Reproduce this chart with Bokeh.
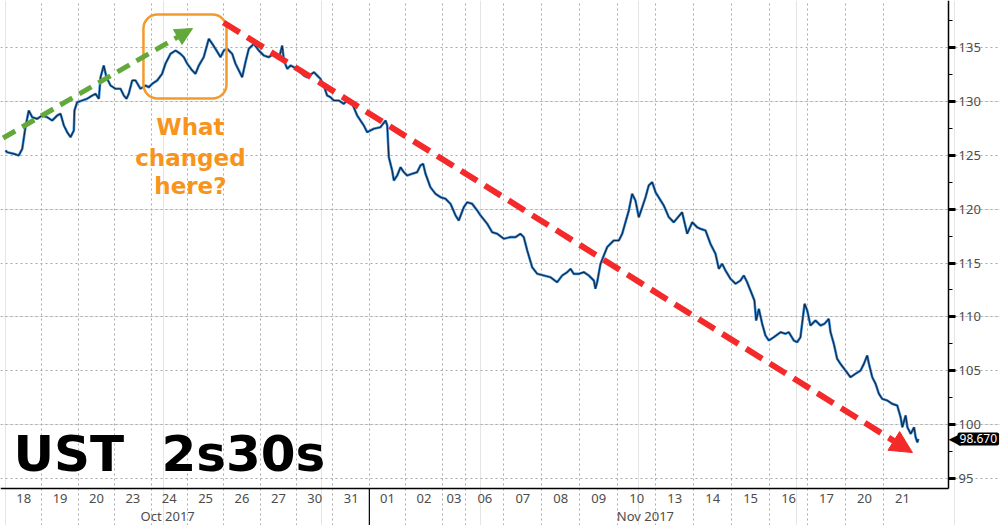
import numpy as np
from bokeh.plotting import figure
from bokeh.models import (Range1d, LinearAxis, FixedTicker, Grid, Arrow, NormalHead,
                          BoxAnnotation, Label, ColumnDataSource)
from bokeh.embed import file_html
from bokeh.resources import INLINE

# ---------------- data ----------------
day_labels = ["18", "19", "20", "23", "24", "25", "26", "27", "30", "31",
              "01", "02", "03", "06", "07", "08", "09", "10", "13", "14",
              "15", "16", "17", "20", "21"]
session_hours = [23] * 12 + [15] + [24] * 12
month_labels = ["Oct 2017", "Nov 2017"]
month_centers = [102.5, 404.5]

# intraday UST 2s30s spread (bp) vs. trading hours since Oct 18 open
hours = [
    0.0, 1.1, 5.2, 8.4, 10.6, 12.6, 14.7, 16.9, 20.0, 23.2,
    26.4, 29.5, 32.7, 34.8, 36.9, 39.0, 41.1, 43.2, 43.6, 45.3,
    48.5, 51.6, 54.8, 56.9, 59.0, 60.1, 62.1, 63.8, 66.4, 69.5,
    72.7, 74.8, 76.5, 77.9, 80.1, 82.2, 85.3, 88.5, 90.6, 92.7,
    95.9, 99.0, 101.1, 104.3, 107.5, 110.6, 112.7, 114.9, 118.0, 120.1,
    122.2, 125.3, 128.5, 130.7, 132.7, 135.9, 138.0, 140.1, 143.3, 145.4,
    147.5, 149.6, 151.7, 153.8, 157.0, 160.1, 163.3, 166.4, 169.6, 172.8,
    174.9, 176.0, 178.1, 180.2, 182.2, 185.4, 188.6, 190.7, 194.9, 197.0,
    199.1, 201.2, 203.3, 205.4, 207.5, 210.7, 213.8, 217.0, 219.2, 222.3,
    224.4, 226.5, 228.6, 232.8, 237.0, 240.2, 241.3, 242.3, 244.4, 245.5,
    247.6, 249.7, 251.8, 253.9, 257.1, 260.2, 262.3, 264.0, 265.5, 268.6,
    271.8, 275.0, 278.1, 281.3, 284.5, 286.5, 289.7, 291.8, 295.0, 298.2,
    300.3, 304.5, 307.6, 310.8, 315.0, 319.2, 322.4, 325.5, 327.6, 329.8,
    332.9, 336.1, 340.3, 344.5, 348.7, 351.9, 355.1, 357.2, 359.2, 362.4,
    365.6, 368.7, 371.9, 372.9, 374.0, 376.1, 380.3, 384.5, 387.7, 389.8,
    394.0, 396.1, 398.2, 400.3, 402.5, 404.6, 406.6, 408.8, 410.2, 410.9,
    416.1, 419.3, 422.4, 427.7, 430.9, 434.1, 437.2, 439.3, 442.5, 445.6,
    448.8, 450.9, 453.0, 455.1, 458.3, 461.5, 464.6, 466.7, 468.8, 470.9,
    473.4, 474.5, 476.2, 478.3, 480.4, 482.5, 485.6, 489.9, 493.0, 495.1,
    498.3, 500.4, 502.5, 505.1, 506.8, 508.8, 512.0, 515.2, 517.7, 520.4,
    521.5, 523.6, 525.7, 527.8, 531.0, 534.1, 537.3, 540.5, 542.6, 544.7,
    545.8, 547.9, 550.0, 552.1, 554.2, 557.4, 560.5, 563.7, 565.8, 566.9,
    569.0, 570.1, 572.2, 574.3, 575.3, 576.4, 577.0,
]
spread = [
    125.44, 125.28, 125.13, 124.98, 125.60, 127.60, 129.15, 128.53, 128.38, 128.69,
    128.53, 128.22, 128.69, 128.85, 127.76, 127.14, 126.68, 127.30, 129.15, 129.92,
    130.08, 130.24, 130.54, 130.70, 130.24, 132.24, 133.33, 132.24, 131.47, 131.17,
    131.17, 130.54, 130.24, 130.70, 131.94, 131.94, 131.17, 131.47, 131.31, 131.63,
    131.94, 132.56, 133.49, 134.41, 134.72, 134.41, 134.10, 133.49, 132.87, 132.56,
    133.33, 134.10, 135.80, 135.34, 134.88, 134.10, 134.72, 134.88, 134.41, 133.49,
    132.87, 132.24, 133.64, 134.88, 135.34, 134.72, 134.26, 134.10, 134.41, 133.95,
    135.18, 133.79, 133.02, 133.33, 133.17, 132.87, 132.40, 132.24, 132.71, 132.40,
    132.09, 131.47, 130.54, 130.39, 130.08, 130.08, 129.77, 130.24, 129.77, 128.69,
    128.22, 127.76, 127.14, 127.46, 127.60, 128.22, 127.76, 124.82, 123.59, 122.66,
    123.12, 123.89, 123.43, 123.12, 123.28, 123.43, 124.05, 124.20, 123.28, 122.03,
    121.42, 121.11, 120.96, 120.49, 119.41, 118.94, 120.18, 120.64, 120.49, 119.87,
    119.41, 118.64, 117.86, 117.71, 117.25, 117.40, 117.40, 117.71, 117.40, 116.16,
    114.61, 114.00, 113.84, 113.68, 113.22, 113.84, 114.15, 114.46, 113.99, 113.99,
    114.15, 113.84, 113.38, 112.61, 113.22, 114.92, 116.47, 117.09, 117.09, 117.71,
    119.87, 121.42, 120.80, 119.25, 120.18, 121.11, 122.19, 122.50, 121.89, 121.57,
    120.34, 119.25, 118.78, 119.71, 117.71, 118.78, 118.32, 118.17, 118.02, 116.78,
    115.85, 114.46, 114.93, 114.30, 113.53, 113.07, 113.38, 113.84, 113.22, 112.45,
    111.52, 109.66, 110.75, 109.36, 108.27, 107.81, 108.11, 108.58, 108.43, 108.58,
    107.81, 107.65, 108.11, 111.21, 110.59, 109.20, 109.66, 109.20, 109.36, 109.82,
    108.58, 107.50, 106.11, 105.64, 105.02, 104.40, 104.72, 105.02, 105.64, 106.41,
    105.64, 104.40, 103.79, 102.86, 102.39, 102.24, 101.93, 101.77, 100.69, 99.76,
    100.85, 99.76, 99.15, 99.76, 98.83, 98.36, 98.67,
]
last_value = 98.670
y_ticks = [95, 100, 105, 110, 115, 120, 125, 130, 135]
y_minor = [97.5, 102.5, 107.5, 112.5, 117.5, 122.5, 127.5, 132.5, 137.5]

# ---------------- derived positions ----------------
sess = np.array(session_hours, dtype=float)
day_end = np.cumsum(sess)
day_start = day_end - sess
day_center = day_start + sess / 2.0
month_sep = float(day_start[day_labels.index("01")])

# whole canvas is the frame; axes are pinned inside it
X0, X1 = -3.16, 628.95       # canvas x extent (hours)
Y0, Y1 = 90.64, 139.36       # canvas y extent (bp)
X_AX = 596.1                 # location of the value axis
Y_AX = 94.07                 # location of the time axis
Y_MON = 92.40                # location of the month row

p = figure(width=1000, height=525, output_backend="svg", toolbar_location=None,
           x_range=Range1d(X0, X1), y_range=Range1d(Y0, Y1),
           x_axis_location=None, y_axis_location=None,
           min_border=0, min_border_left=0, min_border_top=0, min_border_right=0,
           min_border_bottom=0, background_fill_color="white",
           border_fill_color="white")
p.outline_line_color = None

TICK_FONT = "Noto Sans"
TICK_COLOR = "#4d4d4d"

# grids (behind everything)
p.add_layout(Grid(dimension=0, ticker=FixedTicker(ticks=[float(b) for b in day_end[:-1]]),
                  bounds=(Y_AX, Y1),
                  grid_line_color="#a9a9a9", grid_line_dash="2 3", grid_line_width=1))
p.add_layout(Grid(dimension=1, ticker=FixedTicker(ticks=y_ticks), bounds=(X0, X_AX),
                  grid_line_color="#a9a9a9", grid_line_dash="2 3", grid_line_width=1))

# right value axis
yax = LinearAxis(ticker=FixedTicker(ticks=y_ticks, minor_ticks=y_minor),
                 fixed_location=X_AX, bounds=(Y_AX, Y1),
                 axis_line_color="black", axis_line_width=1.5,
                 major_tick_in=0, major_tick_out=7, major_tick_line_width=3,
                 major_tick_line_color="black",
                 minor_tick_in=0, minor_tick_out=4, minor_tick_line_color="black",
                 major_label_text_font=TICK_FONT, major_label_text_font_size="13px",
                 major_label_text_color=TICK_COLOR, major_label_standoff=3)
p.add_layout(yax, "right")

# day axis
xax = LinearAxis(ticker=FixedTicker(ticks=[float(c) for c in day_center]),
                 major_label_overrides={float(c): lab for c, lab in zip(day_center, day_labels)},
                 fixed_location=Y_AX, bounds=(X0, X_AX),
                 axis_line_color="black", axis_line_width=1.5,
                 major_tick_in=0, major_tick_out=0, minor_tick_in=0, minor_tick_out=0,
                 minor_tick_line_color=None,
                 major_label_text_font=TICK_FONT, major_label_text_font_size="13px",
                 major_label_text_color=TICK_COLOR, major_label_standoff=5)
p.add_layout(xax, "below")

# month axis
max_ = LinearAxis(ticker=FixedTicker(ticks=month_centers),
                  major_label_overrides={float(c): lab for c, lab in zip(month_centers, month_labels)},
                  fixed_location=Y_MON,
                  axis_line_color=None, major_tick_line_color=None, minor_tick_line_color=None,
                  major_tick_in=0, major_tick_out=0, minor_tick_in=0, minor_tick_out=0,
                  major_label_text_font=TICK_FONT, major_label_text_font_size="13px",
                  major_label_text_color=TICK_COLOR, major_label_standoff=0)
p.add_layout(max_, "below")

# month separator below the time axis
p.segment(x0=[month_sep], y0=[Y_AX], x1=[month_sep], y1=[Y0],
          line_color="black", line_width=1.2)

# series
src = ColumnDataSource(dict(h=hours, v=spread))
p.line("h", "v", source=src, line_color="#3b8ede", line_width=2.6)
p.line("h", "v", source=src, line_color="#0b1a2c", line_width=1.2, line_alpha=0.85)

# title
TITLE_FONT = "DejaVu Sans"
p.add_layout(Label(x=5.0, y=97.25, text="UST", text_font=TITLE_FONT, text_font_style="bold",
                   text_font_size="50px", text_color="black", text_baseline="alphabetic"))
p.add_layout(Label(x=98.6, y=97.25, text="2s30s", text_font=TITLE_FONT, text_font_style="bold",
                   text_font_size="50px", text_color="black", text_baseline="alphabetic"))

# annotations
p.add_layout(BoxAnnotation(left=87.2, right=139.7, bottom=130.27, top=138.06,
                           fill_color=None, fill_alpha=0, line_color="#f39a2c",
                           line_alpha=1.0, line_width=2.5, border_radius=14))
for txt, yy in [("What", 127.58), ("changed", 124.79), ("here?", 122.19)]:
    p.add_layout(Label(x=116.9, y=yy, text=txt, text_font=TITLE_FONT, text_font_style="bold",
                       text_font_size="23px", text_color="#f7941d", text_align="center",
                       text_baseline="middle"))

green = "#62a83a"
red = "#f42a2a"
p.add_layout(Arrow(x_start=-1.5, y_start=126.6, x_end=118.2, y_end=136.76,
                   line_color=green, line_width=5, line_dash="14 8",
                   end=NormalHead(size=17, fill_color=green, line_color=green)))
p.add_layout(Arrow(x_start=137.8, y_start=137.32, x_end=573.3, y_end=97.41,
                   line_color=red, line_width=6, line_dash="19 9",
                   end=NormalHead(size=22, fill_color=red, line_color=red)))

# last value tag
p.add_layout(Label(x=X_AX, y=last_value, x_offset=0, text="\u25C0", text_font="DejaVu Sans",
                   text_font_size="16px", text_color="black", text_baseline="middle",
                   text_align="left"))
p.add_layout(Label(x=X_AX, y=last_value, x_offset=9, text="98.670", text_font=TICK_FONT,
                   text_font_size="12px", text_color="white", text_baseline="middle",
                   text_align="left", background_fill_color="black", padding=2,
                   border_radius=2))

open("out.html", "w").write(file_html(p, INLINE))
